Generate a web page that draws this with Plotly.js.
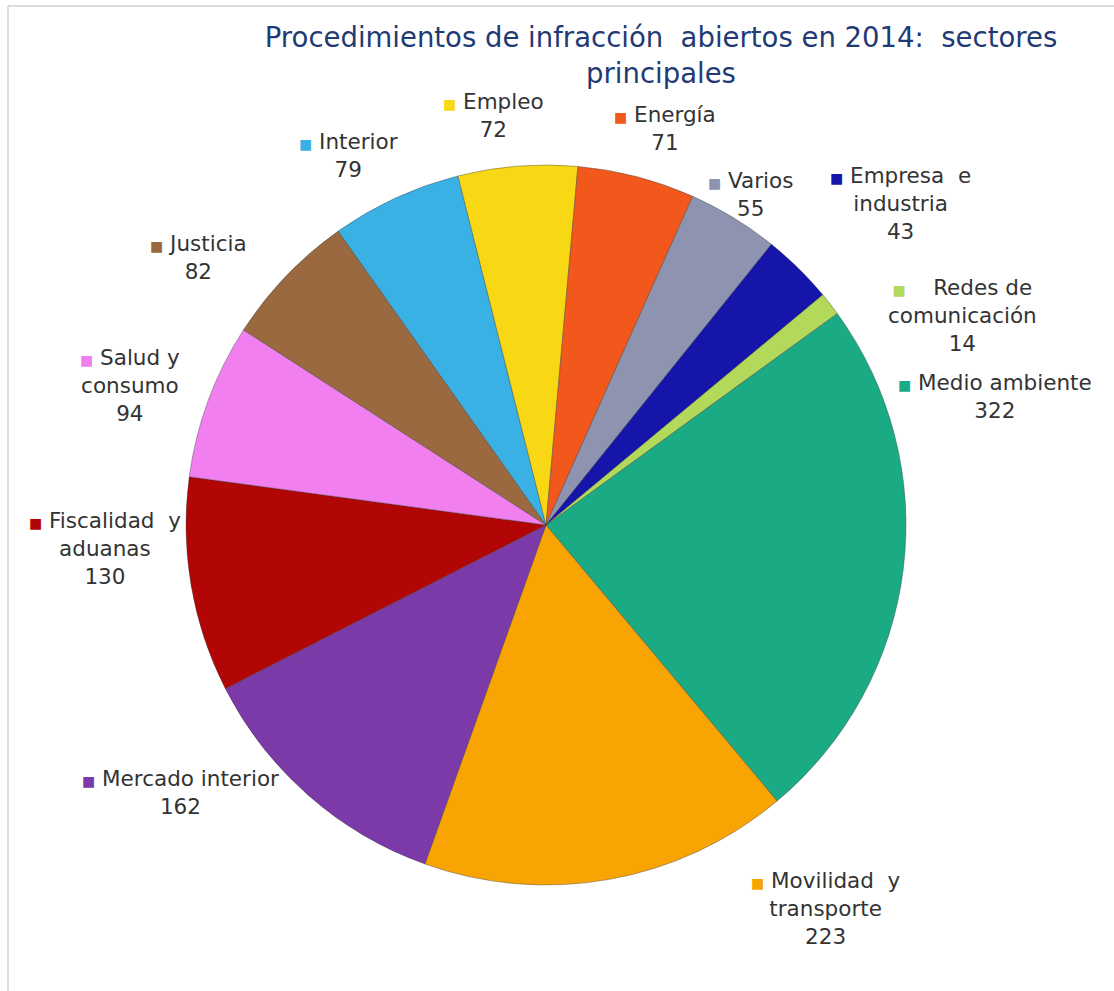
<!DOCTYPE html>
<html>
<head>
<meta charset="utf-8">
<script src="https://cdn.plot.ly/plotly-3.0.1.min.js"></script>
<style>html,body{margin:0;padding:0;background:#fff;}#chart{width:1114px;height:991px;}</style>
</head>
<body>
<div id="chart"></div>
<script>
// Data (clockwise from the Medio ambiente slice)
const sectors = ["Medio ambiente", "Movilidad y transporte", "Mercado interior", "Fiscalidad y aduanas",
  "Salud y consumo", "Justicia", "Interior", "Empleo", "Energía", "Varios", "Empresa e industria", "Redes de comunicación"];
const counts = [322, 223, 162, 130, 94, 82, 79, 72, 71, 55, 43, 14];
const wrappedLabels = ["Medio ambiente", "Movilidad  y<br>transporte", "Mercado interior", "Fiscalidad  y<br>aduanas",
  "Salud y<br>consumo", "Justicia", "Interior", "Empleo", "Energía", "Varios", "Empresa  e<br>industria", "   Redes de<br>comunicación"];
const colors = ["#1aab84", "#f8a504", "#7c3aa9", "#b20606", "#f27ff0", "#9a693f",
  "#3ab1e4", "#f8d814", "#f2581b", "#8e94b0", "#1515aa", "#b3d95a"];

// Label anchor positions (pixels in the 1114x991 page)
const labelPos = [[995, 396], [826, 908], [180, 792], [105, 548], [130, 385], [198, 257],
  [348, 156], [493, 115], [665, 128], [750, 194], [900, 204], [962, 316]];

const W = 1114, H = 991;
const annotations = sectors.map((s, i) => ({
  xref: "paper", yref: "paper",
  x: labelPos[i][0] / W, y: 1 - labelPos[i][1] / H,
  xanchor: "center", yanchor: "middle", showarrow: false, align: "center",
  text: '<span style="color:' + colors[i] + ';font-size:14px">■</span> ' + wrappedLabels[i] + '<br>' + counts[i],
  font: {family: "DejaVu Sans, Verdana, sans-serif", size: 21.5, color: "#333333"}
}));

const cx = 546, cy = 525, r = 360;
const trace = {
  type: "pie",
  labels: sectors,
  values: counts,
  sort: false,
  direction: "clockwise",
  rotation: 54,
  textinfo: "none",
  hoverinfo: "label+value",
  marker: {colors: colors, line: {color: "rgba(60,60,60,0.4)", width: 1}},
  domain: {x: [(cx - r) / W, (cx + r) / W], y: [1 - (cy + r) / H, 1 - (cy - r) / H]},
  showlegend: false
};

const layout = {
  width: W, height: H,
  margin: {l: 0, r: 0, t: 0, b: 0},
  paper_bgcolor: "#ffffff",
  title: {
    text: "Procedimientos de infracción  abiertos en 2014:  sectores<br>principales",
    font: {family: "DejaVu Sans, Verdana, sans-serif", size: 27.5, color: "#1f3a75"},
    x: 661 / W, xanchor: "center", y: 1 - 47 / H, yanchor: "middle"
  },
  annotations: annotations,
  shapes: [
    {type: "line", xref: "paper", yref: "paper", x0: 8 / W, x1: 1.01, y0: 1 - 6 / H, y1: 1 - 6 / H,
     line: {color: "#dddddd", width: 2}},
    {type: "line", xref: "paper", yref: "paper", x0: 8 / W, x1: 8 / W, y0: -0.01, y1: 1 - 6 / H,
     line: {color: "#dddddd", width: 2}}
  ]
};

Plotly.newPlot("chart", [trace], layout, {displayModeBar: false, staticPlot: true});
</script>
</body>
</html>
